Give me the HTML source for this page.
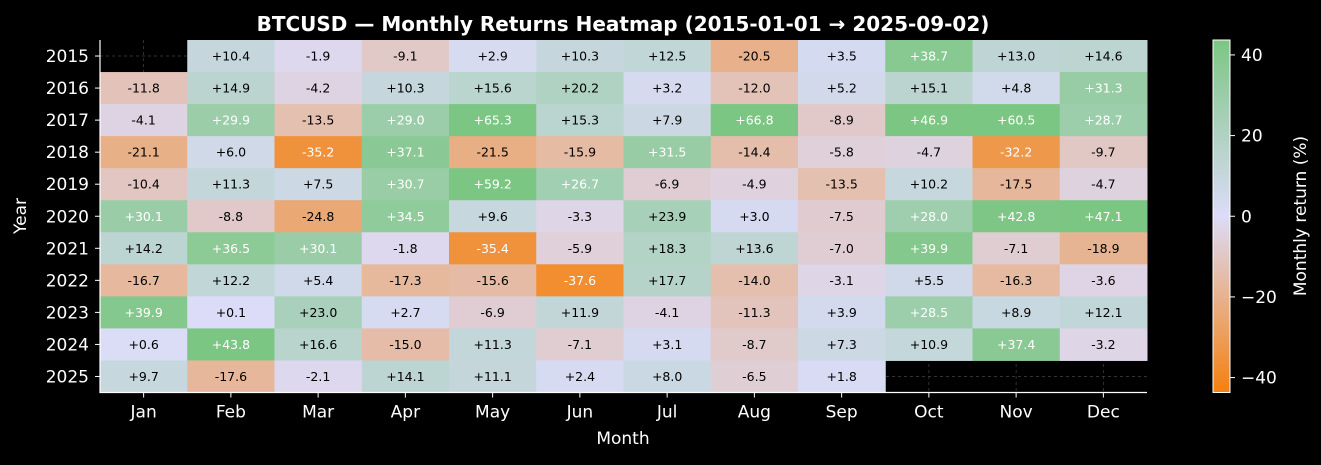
<!DOCTYPE html>
<html><head><meta charset="utf-8"><style>
body{margin:0;background:#000;width:1321px;height:460px;overflow:hidden}
svg{font-family:"DejaVu Sans","Liberation Sans",sans-serif}
</style></head><body>
<svg id="chart" width="1321" height="460" xmlns="http://www.w3.org/2000/svg">
<defs><linearGradient id="cbg" x1="0" y1="1" x2="0" y2="0">
<stop offset="0" stop-color="#f5800f"/><stop offset="0.5" stop-color="#dcdcf8"/><stop offset="1" stop-color="#7cc683"/></linearGradient></defs>
<rect width="1321" height="460" fill="#000"/>
<text x="623" y="31" fill="#fff" font-size="20" font-weight="bold" text-anchor="middle">BTCUSD — Monthly Returns Heatmap (2015-01-01 → 2025-09-02)</text>
<g id="grid"></g><g id="cells"></g><g id="axes"></g>
<rect x="1213" y="40" width="17" height="352.5" fill="url(#cbg)" stroke="#fff" stroke-width="1"/>
<g id="cbticks"></g>
<text transform="translate(1306,216) rotate(-90)" fill="#fff" font-size="17" text-anchor="middle">Monthly return (%)</text>
<text transform="translate(26,216) rotate(-90)" fill="#fff" font-size="17" text-anchor="middle">Year</text>
<text x="623" y="444" fill="#fff" font-size="17" text-anchor="middle">Month</text>
</svg>
<script>
const months=["Jan","Feb","Mar","Apr","May","Jun","Jul","Aug","Sep","Oct","Nov","Dec"];
const years=["2015","2016","2017","2018","2019","2020","2021","2022","2023","2024","2025"];
const r2015=[null,10.4,-1.9,-9.1,2.9,10.3,12.5,-20.5,3.5,38.7,13.0,14.6];
const r2016=[-11.8,14.9,-4.2,10.3,15.6,20.2,3.2,-12.0,5.2,15.1,4.8,31.3];
const r2017=[-4.1,29.9,-13.5,29.0,65.3,15.3,7.9,66.8,-8.9,46.9,60.5,28.7];
const r2018=[-21.1,6.0,-35.2,37.1,-21.5,-15.9,31.5,-14.4,-5.8,-4.7,-32.2,-9.7];
const r2019=[-10.4,11.3,7.5,30.7,59.2,26.7,-6.9,-4.9,-13.5,10.2,-17.5,-4.7];
const r2020=[30.1,-8.8,-24.8,34.5,9.6,-3.3,23.9,3.0,-7.5,28.0,42.8,47.1];
const r2021=[14.2,36.5,30.1,-1.8,-35.4,-5.9,18.3,13.6,-7.0,39.9,-7.1,-18.9];
const r2022=[-16.7,12.2,5.4,-17.3,-15.6,-37.6,17.7,-14.0,-3.1,5.5,-16.3,-3.6];
const r2023=[39.9,0.1,23.0,2.7,-6.9,11.9,-4.1,-11.3,3.9,28.5,8.9,12.1];
const r2024=[0.6,43.8,16.6,-15.0,11.3,-7.1,3.1,-8.7,7.3,10.9,37.4,-3.2];
const r2025=[9.7,-17.6,-2.1,14.1,11.1,2.4,8.0,-6.5,1.8,null,null,null];
const rows=[r2015,r2016,r2017,r2018,r2019,r2020,r2021,r2022,r2023,r2024,r2025];
const cbTicks=[-40,-20,0,20,40];
const VMAX=43.7;
const X0=100,X1=1147,Y0=40,Y1=392.5;
const cw=(X1-X0)/months.length,ch=(Y1-Y0)/years.length;
const xs=i=>X0+i*cw, ys=j=>Y0+j*ch;
const cbY=v=>Y1-(v+VMAX)/(2*VMAX)*(Y1-Y0);
const NS="http://www.w3.org/2000/svg";
function mk(t,a,p){const e=document.createElementNS(NS,t);for(const k in a)e.setAttribute(k,a[k]);p.appendChild(e);return e;}
function color(v){let t=Math.max(-1,Math.min(1,v/VMAX));const z=[220,220,248];const o=t<0?[245,128,15]:[124,198,131];t=Math.abs(t);
return `rgb(${z.map((c,i)=>Math.round(c+(o[i]-c)*t)).join(",")})`;}
const grid=document.getElementById('grid'),cells=document.getElementById('cells'),axes=document.getElementById('axes'),cbt=document.getElementById('cbticks');
months.forEach((m,i)=>{const l=mk('line',{x1:xs(i)+cw/2,x2:xs(i)+cw/2,y1:Y0,y2:Y1,stroke:'#444','stroke-width':0.7,'stroke-dasharray':'3,3'},grid);
});
years.forEach((y,j)=>{const l=mk('line',{x1:X0,x2:X1,y1:ys(j)+ch/2,y2:ys(j)+ch/2,stroke:'#444','stroke-width':0.7,'stroke-dasharray':'3,3'},grid);
});
rows.forEach((row,j)=>row.forEach((v,i)=>{if(v===null)return;
const r=mk('rect',{x:xs(i),y:ys(j),width:cw+0.5,height:ch+0.5,fill:color(v)},cells);


const t=mk('text',{x:xs(i)+cw/2,y:ys(j)+ch/2+4.5,fill:Math.abs(v)>25?'#fff':'#000','font-size':12.5,'text-anchor':'middle'},cells);
t.textContent=(v>=0?'+':'')+v.toFixed(1);

}));
const ax=mk('path',{d:`M${X0},${Y0} V${Y1} H${X1}`,stroke:'#fff','stroke-width':1.2,fill:'none'},axes);

months.forEach((m,i)=>{const x=xs(i)+cw/2;mk('line',{x1:x,x2:x,y1:Y1,y2:Y1+5,stroke:'#fff'},axes);
const t=mk('text',{x:x,y:Y1+25,fill:'#fff','font-size':17,'text-anchor':'middle'},axes);t.textContent=m;
});
years.forEach((y,j)=>{const yy=ys(j)+ch/2;mk('line',{x1:X0-5,x2:X0,y1:yy,y2:yy,stroke:'#fff'},axes);
const t=mk('text',{x:X0-11,y:yy+6,fill:'#fff','font-size':17,'text-anchor':'end'},axes);t.textContent=y;
});
cbTicks.forEach(v=>{const y=cbY(v);mk('line',{x1:1230,x2:1235,y1:y,y2:y,stroke:'#fff'},cbt);
const t=mk('text',{x:1241,y:y+6,fill:'#fff','font-size':17},cbt);t.textContent=v<0?'\u2212'+Math.abs(v):String(v);
});
</script>
</body></html>
